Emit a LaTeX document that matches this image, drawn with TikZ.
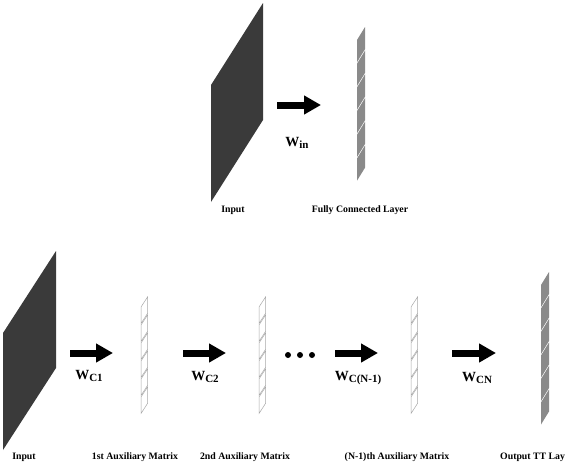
\documentclass[tikz,border=0pt]{standalone}
\usepackage{fontspec}
\setmainfont{Liberation Serif}
\usetikzlibrary{positioning,arrows.meta}
\definecolor{inkdark}{HTML}{3A3A3A}
\definecolor{layergrey}{HTML}{8A8A8A}
\definecolor{auxline}{HTML}{A8A8A8}
\tikzset{
  nn lab/.style={font=\fontsize{9.8}{11}\selectfont\bfseries, inner sep=0pt},
  nn w/.style={font=\fontsize{14}{16}\selectfont\bfseries, inner sep=0pt},
  nn arr/.style={line width=7pt, -{Triangle[length=17pt, width=18pt]}, black},
  nn in/.style={fill=inkdark},
  nn fc/.style={fill=layergrey},
  nn aux/.style={draw=auxline, line width=0.5pt, fill=white},
  nn dot/.style={circle, fill=black, inner sep=0pt, minimum size=6pt},
}
\newcommand{\wsub}[1]{W\raisebox{-0.4ex}{\fontsize{11}{12}\selectfont #1}}

\begin{document}
\begin{tikzpicture}[x=1pt, y=-1pt]
  \useasboundingbox (0,0) rectangle (565,469);
  % upper row: plain fully connected layer
  \fill[nn in] (211,85) -- (263,3) -- (263,120) -- (211,202) -- cycle;
  \foreach \k in {0,...,5}
    \fill[nn fc] (357,{40+\k*23.7}) -- ++(8,-13) -- ++(0,22.2) -- ++(-8,13) -- cycle;
  \coordinate (t1) at (277,105); \coordinate (t2) at (321,105);
  \draw[nn arr] (t1) -- (t2);
  \node[nn w] (win) at (297,143) {\wsub{in}};
  \node[nn lab] (tin) at (233,210) {Input};
  \node[nn lab] (tfc) at (360,210) {Fully Connected Layer};
  % lower row: chain of auxiliary matrices
  \fill[nn in] (3,333) -- (56,251) -- (56,368) -- (3,450) -- cycle;
  \foreach \x in {141,259,411}
    \foreach \k in {0,...,5}
      \filldraw[nn aux] (\x,{307+\k*18}) -- ++(6.5,-10) -- ++(0,16.5) -- ++(-6.5,10) -- cycle;
  \foreach \k in {0,...,5}
    \fill[nn fc] (541,{285+\k*23.5}) -- ++(8,-13) -- ++(0,22) -- ++(-8,13) -- cycle;
  \coordinate (c1s) at (70,353);  \coordinate (c1e) at (113,353);
  \coordinate (c2s) at (183,353); \coordinate (c2e) at (226,353);
  \coordinate (c3s) at (335,353); \coordinate (c3e) at (378,353);
  \coordinate (c4s) at (452,353); \coordinate (c4e) at (496,353);
  \foreach \n in {1,...,4} \draw[nn arr] (c\n s) -- (c\n e);
  \foreach \n/\x in {d1/288, d2/300, d3/312} \node[nn dot] (\n) at (\x,355) {};
  \node[nn w] (w1) at (89,376)  {\wsub{C1}};
  \node[nn w] (w2) at (205,377) {\wsub{C2}};
  \node[nn w] (w3) at (358,378) {\wsub{C(N-1)}};
  \node[nn w] (w4) at (477,378) {\wsub{CN}};
  \node[nn lab] (bin) at (24,457)  {Input};
  \node[nn lab] (ba1) at (135,457) {1st Auxiliary Matrix};
  \node[nn lab] (ba2) at (245,457) {2nd Auxiliary Matrix};
  \node[nn lab] (ba3) at (397,457) {(N-1)th Auxiliary Matrix};
  \node[nn lab, anchor=west] (bout) at (500,457) {Output TT Layer};
\end{tikzpicture}
\end{document}
